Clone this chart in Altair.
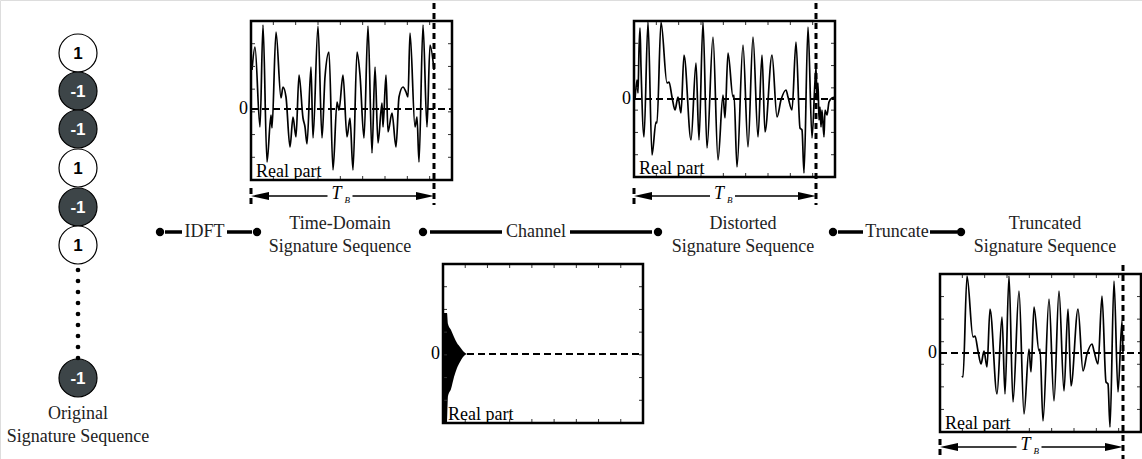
import altair as alt
import pandas as pd

W, H = 1142, 459

# ---------------- data ----------------
# original signature sequence (shown symbols; the last one follows the ellipsis)
seq_values = [1, -1, -1, 1, -1, 1, -1]

# time-domain signature sequence, real part (sample index, amplitude)
td_t = [1, 4, 9, 12, 16, 20, 21, 25, 30, 32, 35, 39, 42, 45, 48, 52, 54, 56, 60, 62,
        67, 71, 74, 78, 82, 86, 88, 92, 96, 99, 102, 106, 109, 113, 117, 121, 124, 127,
        131, 132, 135, 137, 141, 145, 148, 152, 155, 157, 159, 164, 166, 168, 172, 176,
        179, 183]
td_v = [39, 62, -18, 84, -53, -6, -19, 77, 11, 22, 12, -38, -8, -28, 34, -9, -18, -35, 42, -29,
        83, -29, 32, 57, -61, 7, -1, 34, -28, -9, -61, 57, 34, -29, 83, -44, 42, -34,
        6, -18, 34, -23, -4, -38, 12, 22, 17, 12, 76, -18, -8, -53, 84, -18,
        64, 39]

# distorted signature sequence, real part
ds_t = [1, 3, 4, 5, 6, 7, 10, 14, 18, 22, 23, 27, 33, 35, 38, 41, 44, 47, 50, 57,
        62, 65, 69, 73, 79, 84, 89, 91, 94, 99, 100, 103, 109, 114, 119, 124, 128, 131,
        138, 143, 147, 152, 154, 158, 162, 166, 168, 170, 174, 178, 182,
        183, 184, 185, 186, 187, 188, 190, 191, 193, 195, 198, 201]
ds_v = [-1, 19, 6, 49, 71, 32, -38, 77, -56, -23, -24, 77, 16, 17, 2, -11, 2, -14, 44, -41,
        36, -41, 77, -49, 62, -61, 4, -19, 46, 2, 4, -68, 54, -48, 62, -38, 44, -33,
        44, -18, -1, 9, 2, -11, 57, -29, -31, -74, 72, -39, 32,
        -1, 16, -21, -8, -28, -11, -38, -11, -16, -3, 1, 2]

# channel impulse response envelope (real part)
ch_t = [0, 4, 5, 8, 11, 14, 17, 20, 24]
ch_hi = [41, 41, 30, 24, 17, 11, 7, 3, 0]
ch_lo = [-68, -68, -42, -35, -23, -14, -8, -3, 0]

# truncation window (sample range kept)
trunc_start, trunc_end = 22, 183

# ---------------- layout ----------------
B1 = dict(x0=251, x1=452, y0=21, y1=180, z=109)
B2 = dict(x0=634, x1=835, y0=21, y1=177, z=99)
B3 = dict(x0=443, x1=643, y0=264, y1=423, z=354)
B4 = dict(x0=940, x1=1141, y0=274, y1=432, z=353)
boxes = [B1, B2, B3, B4]

SERIF = "Liberation Serif"
SANS = "Liberation Sans"

xs = alt.Scale(domain=[0, W], range=[0, W], nice=False, zero=False)
ys = alt.Scale(domain=[0, H], range=[0, H], nice=False, zero=False)
X = lambda f="x": alt.X(f"{f}:Q", scale=xs, axis=None)
Y = lambda f="y": alt.Y(f"{f}:Q", scale=ys, axis=None)

layers = []

# zero dashed lines
zero_rows = [dict(x=b["x0"], x2=b["x1"], y=b["z"], y2=b["z"]) for b in (B1, B2, B4)]
zero_rows.append(dict(x=B3["x0"] + 24, x2=B3["x1"], y=B3["z"], y2=B3["z"]))
layers.append(alt.Chart(pd.DataFrame(zero_rows)).mark_rule(
    color="black", strokeWidth=2.2, strokeDash=[7, 4]).encode(
    x=X(), x2="x2:Q", y=Y(), y2="y2:Q"))

# signals
sig = []
for t, v in zip(td_t, td_v):
    sig.append(dict(g="td", x=B1["x0"] + t, y=B1["z"] - v, o=t))
for t, v in zip(ds_t, ds_v):
    sig.append(dict(g="ds", x=B2["x0"] + t, y=B2["z"] - v, o=t))
    if trunc_start <= t <= trunc_end:
        sig.append(dict(g="tr", x=B4["x0"] + t, y=B4["z"] - v, o=t))
layers.append(alt.Chart(pd.DataFrame(sig)).mark_line(
    color="black", strokeWidth=1.7, interpolate="monotone").encode(
    x=X(), y=Y(), detail="g:N", order="o:Q"))

# channel impulse response (dense, drawn as filled envelope)
ch = pd.DataFrame(dict(x=[B3["x0"] + t for t in ch_t],
                       y=[B3["z"] - v for v in ch_hi],
                       y2=[B3["z"] - v for v in ch_lo]))
layers.append(alt.Chart(ch).mark_area(color="black", interpolate="monotone").encode(
    x=X(), y=Y(), y2="y2:Q"))

# inner ticks on frames
tick_rows = []
for b in boxes:
    w = b["x1"] - b["x0"]; h = b["y1"] - b["y0"]
    for k in range(1, 9):
        xx = b["x0"] + k * w / 9
        tick_rows.append(dict(x=xx, x2=xx, y=b["y0"], y2=b["y0"] + 4))
        tick_rows.append(dict(x=xx, x2=xx, y=b["y1"] - 4, y2=b["y1"]))
    for k in range(1, 7):
        yy = b["y0"] + k * h / 7
        tick_rows.append(dict(x=b["x0"], x2=b["x0"] + 4, y=yy, y2=yy))
        tick_rows.append(dict(x=b["x1"] - 4, x2=b["x1"], y=yy, y2=yy))
layers.append(alt.Chart(pd.DataFrame(tick_rows)).mark_rule(
    color="#333333", strokeWidth=1).encode(x=X(), x2="x2:Q", y=Y(), y2="y2:Q"))

# frames
layers.append(alt.Chart(pd.DataFrame([dict(x=b["x0"], x2=b["x1"], y=b["y0"], y2=b["y1"]) for b in boxes]))
              .mark_rect(fillOpacity=0, stroke="black", strokeWidth=2.5).encode(
    x=X(), x2="x2:Q", y=Y(), y2="y2:Q"))

# vertical dashed window markers
vrows = [dict(x=434, x2=434, y=3, y2=205), dict(x=816, x2=816, y=3, y2=205),
         dict(x=1123, x2=1123, y=265, y2=459),
         dict(x=B1["x0"], x2=B1["x0"], y=188, y2=206),
         dict(x=B2["x0"], x2=B2["x0"], y=188, y2=206),
         dict(x=B4["x0"], x2=B4["x0"], y=439, y2=459)]
layers.append(alt.Chart(pd.DataFrame(vrows)).mark_rule(
    color="black", strokeWidth=3, strokeDash=[6, 4]).encode(
    x=X(), x2="x2:Q", y=Y(), y2="y2:Q"))

# T_B arrows
arrows = [(B1["x0"], 434, 196), (B2["x0"], 816, 196), (B4["x0"], 1123, 447)]
arow, heads, tlab, blab = [], [], [], []
for a, b, yy in arrows:
    c = (a + b) / 2
    arow.append(dict(x=a + 6, x2=c - 15, y=yy, y2=yy))
    arow.append(dict(x=c + 10, x2=b - 6, y=yy, y2=yy))
    heads.append(dict(x=a + 9, y=yy, s="L"))
    heads.append(dict(x=b - 9, y=yy, s="R"))
    tlab.append(dict(x=c - 6, y=yy - 2, t="T"))
    blab.append(dict(x=c + 2, y=yy + 4, t="B"))
layers.append(alt.Chart(pd.DataFrame(arow)).mark_rule(color="black", strokeWidth=1.5).encode(
    x=X(), x2="x2:Q", y=Y(), y2="y2:Q"))
hd = pd.DataFrame(heads)
layers.append(alt.Chart(hd[hd.s == "L"]).mark_point(
    shape="M-1,0L1,-0.45L1,0.45Z", size=324, filled=True, color="black", opacity=1).encode(x=X(), y=Y()))
layers.append(alt.Chart(hd[hd.s == "R"]).mark_point(
    shape="M1,0L-1,-0.45L-1,0.45Z", size=324, filled=True, color="black", opacity=1).encode(x=X(), y=Y()))
layers.append(alt.Chart(pd.DataFrame(tlab)).mark_text(
    font=SERIF, fontSize=18, fontStyle="italic", baseline="middle", align="center").encode(
    x=X(), y=Y(), text="t:N"))
layers.append(alt.Chart(pd.DataFrame(blab)).mark_text(
    font=SERIF, fontSize=9, fontStyle="italic", baseline="middle", align="left").encode(
    x=X(), y=Y(), text="t:N"))

# "0" labels and "Real part"
zl = pd.DataFrame([dict(x=b["x0"] - 3, y=b["z"], t="0") for b in boxes])
layers.append(alt.Chart(zl).mark_text(font=SERIF, fontSize=18, align="right", baseline="middle").encode(
    x=X(), y=Y(), text="t:N"))
rp = pd.DataFrame([dict(x=b["x0"] + 5, y=b["y1"] - 8, t="Real part") for b in boxes])
layers.append(alt.Chart(rp).mark_text(font=SERIF, fontSize=18, align="left", baseline="middle").encode(
    x=X(), y=Y(), text="t:N"))

# signature sequence circles
cy = [53, 91, 129, 168, 207, 245, 378]
circ = pd.DataFrame(dict(x=[78] * len(seq_values), y=cy, v=seq_values,
                         t=[str(v) for v in seq_values]))
layers.append(alt.Chart(circ).mark_point(shape="circle", size=1444, filled=True, stroke="black",
                                         strokeWidth=1.2, opacity=1).encode(
    x=X(), y=Y(),
    fill=alt.Fill("v:N", scale=alt.Scale(domain=[-1, 1], range=["#3d4548", "white"]), legend=None)))
layers.append(alt.Chart(circ).mark_text(font=SANS, fontSize=17, fontWeight="bold",
                                        baseline="middle", align="center", dy=1).encode(
    x=X(), y=Y(), text="t:N",
    color=alt.Color("v:N", scale=alt.Scale(domain=[-1, 1], range=["white", "black"]), legend=None)))
ell = pd.DataFrame(dict(x=[78] * 9, y=[270 + 11 * k for k in range(9)]))
layers.append(alt.Chart(ell).mark_point(shape="circle", size=22, filled=True, color="black", opacity=1).encode(
    x=X(), y=Y()))

# connector row
conn_y = 232
segs = [(165, 182), (227, 252), (430, 502), (570, 652), (838, 863), (930, 957)]
layers.append(alt.Chart(pd.DataFrame([dict(x=a, x2=b, y=conn_y, y2=conn_y) for a, b in segs]))
              .mark_rule(color="black", strokeWidth=3.5).encode(x=X(), x2="x2:Q", y=Y(), y2="y2:Q"))
dots = pd.DataFrame(dict(x=[160, 257, 423, 658, 833, 961], y=[conn_y] * 6))
layers.append(alt.Chart(dots).mark_point(shape="circle", size=70, filled=True, color="black", opacity=1).encode(
    x=X(), y=Y()))

labels = pd.DataFrame([
    dict(x=204.5, y=conn_y, t="IDFT"),
    dict(x=536, y=conn_y, t="Channel"),
    dict(x=897, y=conn_y, t="Truncate"),
    dict(x=340, y=224, t="Time-Domain"),
    dict(x=340, y=247, t="Signature Sequence"),
    dict(x=743, y=224, t="Distorted"),
    dict(x=743, y=247, t="Signature Sequence"),
    dict(x=1045, y=224, t="Truncated"),
    dict(x=1045, y=247, t="Signature Sequence"),
    dict(x=78, y=414, t="Original"),
    dict(x=78, y=437, t="Signature Sequence"),
])
layers.append(alt.Chart(labels).mark_text(font=SERIF, fontSize=18, align="center", baseline="middle",
                                          color="#222222").encode(x=X(), y=Y(), text="t:N"))

chart = alt.layer(*layers).properties(width=W, height=H, padding=0, autosize="none").configure_view(
    stroke=None).configure(background="white")

chart.save("out.html", embed_options={"renderer": "svg", "actions": False})
